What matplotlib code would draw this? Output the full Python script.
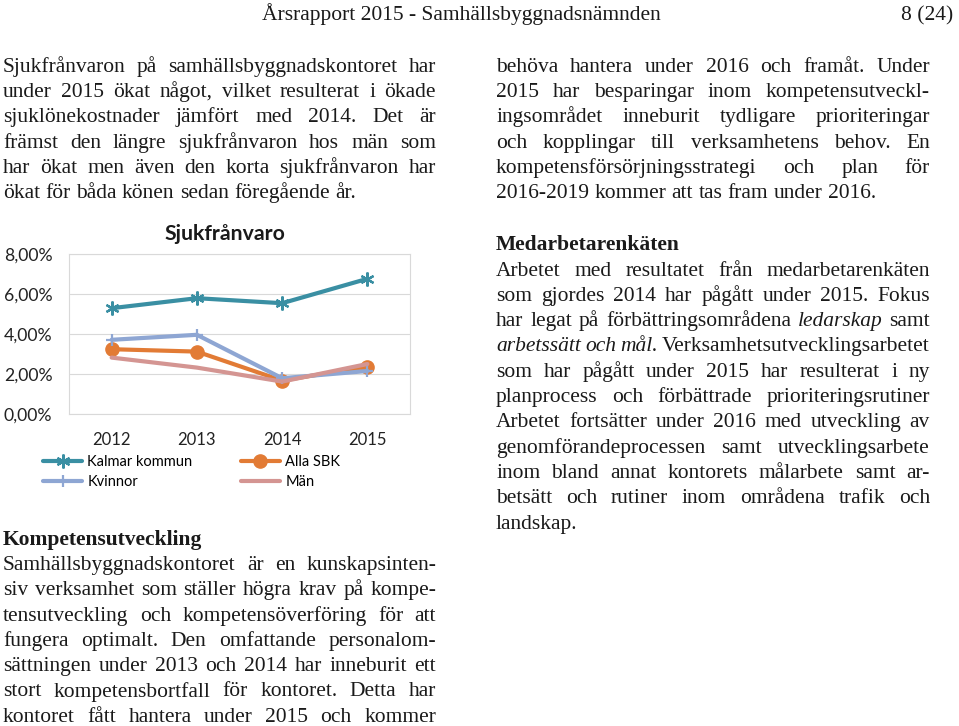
import matplotlib
matplotlib.use("Agg")
import matplotlib.pyplot as plt
from matplotlib.ticker import FuncFormatter

# --- chart data ---
years = ["2012", "2013", "2014", "2015"]
kalmar_kommun = [5.29, 5.79, 5.54, 6.76]
alla_sbk = [3.24, 3.12, 1.67, 2.37]
kvinnor = [3.71, 3.96, 1.79, 2.15]
man = [2.82, 2.32, 1.62, 2.50]

# --- page text ---
header = "Årsrapport 2015 - Samhällsbyggnadsnämnden"
page_no = "8 (24)"

intro_lines = [
    "Sjukfrånvaron på samhällsbyggnadskontoret har",
    "under 2015 ökat något, vilket resulterat i ökade",
    "sjuklönekostnader jämfört med 2014. Det är",
    "främst den längre sjukfrånvaron hos män som",
    "har ökat men även den korta sjukfrånvaron har",
    "ökat för båda könen sedan föregående år.",
]
komp_title = "Kompetensutveckling"
komp_lines = [
    "Samhällsbyggnadskontoret är en kunskapsinten-",
    "siv verksamhet som ställer högra krav på kompe-",
    "tensutveckling och kompetensöverföring för att",
    "fungera optimalt. Den omfattande personalom-",
    "sättningen under 2013 och 2014 har inneburit ett",
    "stort kompetensbortfall för kontoret. Detta har",
    "kontoret fått hantera under 2015 och kommer",
]
komp_cont_lines = [
    "behöva hantera under 2016 och framåt. Under",
    "2015 har besparingar inom kompetensutveckl-",
    "ingsområdet inneburit tydligare prioriteringar",
    "och kopplingar till verksamhetens behov. En",
    "kompetensförsörjningsstrategi och plan för",
    "2016-2019 kommer att tas fram under 2016.",
]
enkat_title = "Medarbetarenkäten"
# words starting with * are set in italics
enkat_lines = [
    "Arbetet med resultatet från medarbetarenkäten",
    "som gjordes 2014 har pågått under 2015. Fokus",
    "har legat på förbättringsområdena *ledarskap samt",
    "*arbetssätt *och *mål. Verksamhetsutvecklingsarbetet",
    "som har pågått under 2015 har resulterat i ny",
    "planprocess och förbättrade prioriteringsrutiner",
    "Arbetet fortsätter under 2016 med utveckling av",
    "genomförandeprocessen samt utvecklingsarbete",
    "inom bland annat kontorets målarbete samt ar-",
    "betsätt och rutiner inom områdena trafik och",
    "landskap.",
]

W, H = 959, 726
LINE = 25.3
BODY = dict(family="Liberation Serif", size=15.5, color="#1a1a1a")

fig = plt.figure(figsize=(W / 100, H / 100), dpi=100)
renderer = fig.canvas.get_renderer()


def px(x, y):
    return x / W, 1 - y / H


def word_width(word, **kw):
    t = fig.text(0, 0, word, **kw)
    w = t.get_window_extent(renderer).width
    t.remove()
    return w


SPACE = word_width("a a", **BODY) - word_width("aa", **BODY)


def paragraph(lines, x0, x1, y0, justify_last=False):
    for i, line in enumerate(lines):
        y = y0 + i * LINE
        words = []
        for w in line.split():
            style = "italic" if w.startswith("*") else "normal"
            words.append((w.lstrip("*"), style))
        widths = [word_width(w, style=s, **BODY) for w, s in words]
        last = i == len(lines) - 1 and not justify_last
        if last or len(words) == 1:
            gap = SPACE
        else:
            gap = (x1 - x0 - sum(widths)) / (len(words) - 1)
        x = x0
        for (w, s), ww in zip(words, widths):
            fig.text(*px(x, y), w, style=s, ha="left", va="baseline", **BODY)
            x += ww + gap


# header
fig.text(*px(461, 20), header, ha="center", va="baseline", **BODY)
fig.text(*px(953, 20), page_no, ha="right", va="baseline", **BODY)

# left column
paragraph(intro_lines, 3, 436, 71.7)
fig.text(*px(3, 545), komp_title, ha="left", va="baseline", weight="bold", **BODY)
paragraph(komp_lines, 3, 436, 570, justify_last=True)

# right column
paragraph(komp_cont_lines, 496, 930, 71.7)
fig.text(*px(496, 250), enkat_title, ha="left", va="baseline", weight="bold", **BODY)
paragraph(enkat_lines, 496, 930, 275.5)

# --- chart ---
CHART_FONT = "Lato"
ax = fig.add_axes([69 / W, 1 - 414 / H, 341 / W, 160 / H])
x = range(len(years))

ax.plot(x, kalmar_kommun, color="#3A8FA3", lw=3, marker=(6, 2, 0),
        ms=10, mew=1.6, label="Kalmar kommun", solid_capstyle="round")
ax.plot(x, alla_sbk, color="#E27B35", lw=3, marker="o", ms=9.5,
        label="Alla SBK", solid_capstyle="round")
ax.plot(x, kvinnor, color="#8EA6D3", lw=3, marker="+", ms=9, mew=1.6,
        label="Kvinnor", solid_capstyle="round")
ax.plot(x, man, color="#D49592", lw=3, label="Män", solid_capstyle="round")

ax.set_xlim(-0.5, len(years) - 0.5)
ax.set_ylim(0, 8)
ax.set_yticks([0, 2, 4, 6, 8])
ax.yaxis.set_major_formatter(FuncFormatter(lambda v, p: f"{v:.2f}".replace(".", ",") + "%"))
ax.set_xticks(list(x))
ax.set_xticklabels(years)
ax.tick_params(axis="both", length=0, colors="#222222")
ax.tick_params(axis="y", pad=12, labelsize=12.7)
ax.tick_params(axis="x", pad=13, labelsize=12)
for lab in ax.get_xticklabels() + ax.get_yticklabels():
    lab.set_family(CHART_FONT)
ax.grid(axis="y", color="#D9D9D9", lw=0.8)
ax.set_axisbelow(True)
for s in ax.spines.values():
    s.set_color("#D9D9D9")
    s.set_linewidth(0.8)

fig.text(*px(225, 240), "Sjukfrånvaro", ha="center", va="baseline",
         family=CHART_FONT, weight="bold", size=15.3, color="#1a1a1a")

h, l = ax.get_legend_handles_labels()
order = [0, 2, 1, 3]
fig.legend([h[i] for i in order], [l[i] for i in order],
           loc="center left", bbox_to_anchor=px(43, 472), ncol=2,
           frameon=False, borderpad=0, borderaxespad=0, handlelength=2.7,
           handletextpad=0.35, columnspacing=3.3, labelspacing=0.4,
           prop=dict(family=CHART_FONT, size=10.5))

fig.savefig("out.png", dpi=100)
